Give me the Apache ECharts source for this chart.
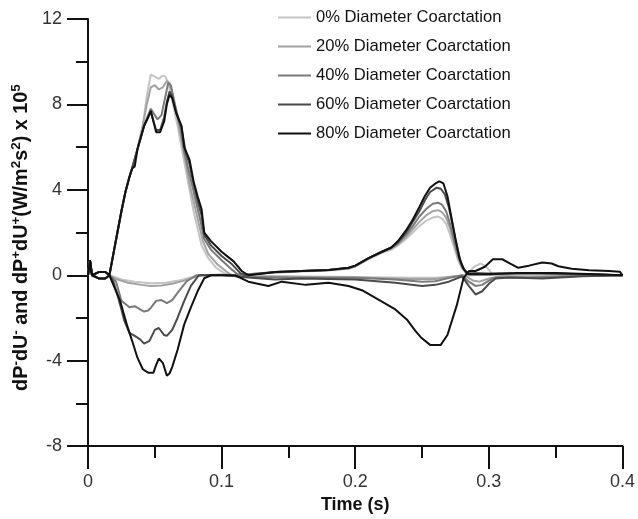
<!DOCTYPE html>
<html>
<head>
<meta charset="utf-8">
<script src="https://cdn.jsdelivr.net/npm/echarts@6/dist/echarts.min.js"></script>
<style>html,body{margin:0;padding:0;background:#fff;}#c{width:638px;height:519px;}</style>
</head>
<body>
<div id="c"></div>
<script>
// ---- data (time s, value x1e5) ----
const levels = ['0% Diameter Coarctation','20% Diameter Coarctation','40% Diameter Coarctation','60% Diameter Coarctation','80% Diameter Coarctation'];
const xTicks = [0, 0.1, 0.2, 0.3, 0.4];
const yTicks = [-8, -4, 0, 4, 8, 12];

// forward waves dP+dU+
const fwd0 = [[0,0],[0.0015,0.7],[0.003,0],[0.008,0.15],[0.013,0.15],[0.016,0],[0.019,1.0],[0.022,2.0],[0.025,3.0],[0.028,3.9],[0.031,4.6],[0.033,5.0],[0.037,5.9],[0.041,7.0],[0.044,8.4],[0.047,9.4],[0.05,9.3],[0.053,9.2],[0.056,9.35],[0.058,9.3],[0.06,9.0],[0.063,8.2],[0.067,7.0],[0.07,6.0],[0.073,5.0],[0.076,4.0],[0.079,3.0],[0.082,2.2],[0.085,1.4],[0.09,0.8],[0.096,0.35],[0.102,0.1],[0.106,0],[0.12,0.05],[0.14,0.12],[0.16,0.18],[0.18,0.22],[0.195,0.3],[0.2,0.4],[0.21,0.75],[0.22,1.05],[0.227,1.2],[0.232,1.4],[0.238,1.7],[0.243,2.0],[0.248,2.3],[0.253,2.55],[0.258,2.7],[0.262,2.75],[0.265,2.65],[0.268,2.4],[0.271,1.9],[0.274,1.3],[0.277,0.7],[0.28,0.3],[0.284,0.05],[0.289,0.4],[0.294,0.55],[0.298,0.4],[0.302,0.1],[0.32,0.05],[0.36,0.05],[0.4,0]];
const fwd20 = [[0,0],[0.0015,0.7],[0.003,0],[0.008,0.15],[0.013,0.15],[0.016,0],[0.019,1.0],[0.022,2.0],[0.025,3.0],[0.028,3.9],[0.031,4.6],[0.033,5.0],[0.037,5.9],[0.041,7.0],[0.044,8.0],[0.047,8.8],[0.05,8.9],[0.053,8.7],[0.056,8.8],[0.059,9.1],[0.061,9.0],[0.064,8.3],[0.068,7.0],[0.071,6.0],[0.074,5.0],[0.077,4.0],[0.08,3.2],[0.083,2.4],[0.086,1.6],[0.09,1.0],[0.097,0.5],[0.104,0.15],[0.108,0],[0.12,0.05],[0.14,0.13],[0.16,0.2],[0.18,0.23],[0.195,0.32],[0.2,0.42],[0.21,0.78],[0.22,1.08],[0.227,1.25],[0.232,1.45],[0.238,1.8],[0.243,2.15],[0.248,2.5],[0.253,2.8],[0.258,3.0],[0.262,3.05],[0.265,2.95],[0.268,2.7],[0.271,2.2],[0.274,1.5],[0.277,0.8],[0.28,0.35],[0.284,0.05],[0.29,0.1],[0.3,0.05],[0.33,0.08],[0.37,0.05],[0.4,0]];
const fwd40 = [[0,0],[0.0015,0.7],[0.003,0],[0.008,0.15],[0.013,0.15],[0.016,0],[0.019,1.0],[0.022,2.0],[0.025,3.0],[0.028,3.9],[0.031,4.6],[0.033,5.0],[0.037,5.9],[0.042,7.0],[0.045,7.5],[0.047,7.8],[0.049,7.6],[0.052,7.3],[0.055,7.5],[0.058,8.4],[0.06,9.0],[0.062,8.9],[0.065,8.0],[0.069,7.0],[0.072,5.8],[0.075,5.0],[0.078,4.2],[0.081,3.4],[0.084,2.6],[0.087,1.7],[0.092,1.2],[0.1,0.7],[0.107,0.3],[0.112,0.05],[0.12,0.05],[0.14,0.15],[0.16,0.2],[0.18,0.25],[0.195,0.33],[0.2,0.43],[0.21,0.8],[0.22,1.1],[0.227,1.28],[0.232,1.5],[0.238,1.9],[0.243,2.3],[0.248,2.75],[0.253,3.1],[0.258,3.35],[0.262,3.4],[0.265,3.3],[0.268,3.0],[0.271,2.4],[0.274,1.6],[0.277,0.9],[0.28,0.4],[0.284,0.05],[0.3,0.05],[0.33,0.1],[0.37,0.05],[0.4,0]];
const fwd60 = [[0,0],[0.0015,0.7],[0.003,0],[0.008,0.15],[0.013,0.15],[0.016,0],[0.019,1.0],[0.022,2.0],[0.025,3.0],[0.028,3.9],[0.031,4.6],[0.033,5.0],[0.037,5.9],[0.042,7.0],[0.045,7.4],[0.047,7.65],[0.049,7.2],[0.051,6.8],[0.054,6.8],[0.057,7.4],[0.059,8.1],[0.061,8.6],[0.063,8.4],[0.066,7.6],[0.07,6.9],[0.073,5.8],[0.076,5.2],[0.079,4.3],[0.082,3.5],[0.085,2.8],[0.087,1.9],[0.092,1.4],[0.1,0.9],[0.108,0.5],[0.114,0.1],[0.118,0],[0.14,0.15],[0.16,0.2],[0.18,0.25],[0.195,0.35],[0.2,0.45],[0.21,0.8],[0.22,1.1],[0.227,1.3],[0.232,1.55],[0.238,2.0],[0.243,2.5],[0.248,3.0],[0.252,3.5],[0.256,3.9],[0.261,4.1],[0.264,4.05],[0.267,3.8],[0.27,3.2],[0.273,2.3],[0.276,1.4],[0.279,0.6],[0.283,0.1],[0.3,0.08],[0.33,0.1],[0.37,0.05],[0.4,0]];
const fwd80 = [[0,0],[0.0015,0.7],[0.003,0],[0.008,0.15],[0.013,0.15],[0.016,0],[0.019,1.0],[0.022,2.0],[0.025,3.0],[0.028,3.9],[0.031,4.6],[0.033,5.0],[0.035,5.1],[0.037,5.9],[0.042,7.0],[0.045,7.4],[0.047,7.7],[0.049,7.2],[0.051,6.7],[0.054,6.7],[0.057,7.2],[0.059,8.0],[0.061,8.45],[0.063,8.3],[0.066,7.6],[0.07,7.0],[0.072,6.0],[0.076,5.4],[0.079,4.4],[0.082,3.7],[0.085,3.1],[0.087,2.0],[0.092,1.6],[0.1,1.1],[0.105,0.85],[0.109,0.65],[0.115,0.2],[0.12,0],[0.14,0.15],[0.16,0.2],[0.18,0.25],[0.195,0.35],[0.2,0.45],[0.21,0.8],[0.22,1.1],[0.227,1.3],[0.232,1.6],[0.238,2.1],[0.243,2.6],[0.248,3.2],[0.252,3.7],[0.256,4.1],[0.26,4.3],[0.263,4.4],[0.266,4.3],[0.269,3.7],[0.272,2.7],[0.275,1.7],[0.278,0.8],[0.281,0.3],[0.285,0.05],[0.3,0.05],[0.32,0.1],[0.35,0.1],[0.38,0.05],[0.4,0]];

// backward waves dP-dU-
const bwd0 = [[0,0],[0.0015,0.7],[0.003,0],[0.008,-0.15],[0.013,-0.15],[0.016,0],[0.025,-0.2],[0.035,-0.3],[0.047,-0.37],[0.058,-0.35],[0.068,-0.25],[0.078,-0.08],[0.085,0],[0.1,0],[0.12,-0.05],[0.15,-0.05],[0.2,-0.08],[0.24,-0.12],[0.26,-0.12],[0.275,-0.05],[0.285,0],[0.3,0.02],[0.32,0],[0.35,0.02],[0.4,0]];
const bwd20 = [[0,0],[0.0015,0.7],[0.003,0],[0.008,-0.15],[0.013,-0.15],[0.016,0],[0.022,-0.2],[0.03,-0.35],[0.04,-0.45],[0.047,-0.5],[0.055,-0.48],[0.063,-0.4],[0.072,-0.25],[0.08,-0.08],[0.085,0],[0.1,0],[0.12,-0.05],[0.16,-0.08],[0.2,-0.1],[0.24,-0.18],[0.26,-0.18],[0.275,-0.05],[0.282,0],[0.288,-0.25],[0.293,-0.3],[0.3,-0.15],[0.31,-0.05],[0.33,-0.08],[0.36,-0.03],[0.4,0]];
const bwd40 = [[0,0],[0.0015,0.7],[0.003,0],[0.008,-0.15],[0.013,-0.15],[0.016,0],[0.021,-0.3],[0.025,-1.2],[0.028,-1.35],[0.031,-1.5],[0.035,-1.45],[0.039,-1.6],[0.042,-1.7],[0.045,-1.65],[0.047,-1.53],[0.051,-1.2],[0.055,-1.16],[0.059,-1.3],[0.063,-1.16],[0.068,-0.74],[0.074,-0.28],[0.081,0],[0.1,0],[0.12,-0.08],[0.15,-0.1],[0.2,-0.12],[0.23,-0.2],[0.25,-0.3],[0.26,-0.28],[0.272,-0.1],[0.28,0],[0.285,-0.3],[0.29,-0.5],[0.295,-0.45],[0.3,-0.25],[0.305,-0.1],[0.31,-0.1],[0.33,-0.12],[0.36,-0.05],[0.4,0]];
const bwd60 = [[0,0],[0.0015,0.7],[0.003,0],[0.008,-0.15],[0.013,-0.15],[0.016,0],[0.019,-0.3],[0.022,-0.9],[0.025,-1.6],[0.027,-2.1],[0.031,-2.7],[0.035,-2.84],[0.039,-3.0],[0.042,-3.2],[0.046,-3.07],[0.05,-2.56],[0.053,-2.47],[0.057,-2.8],[0.059,-2.84],[0.063,-2.56],[0.067,-2.0],[0.072,-1.2],[0.077,-0.5],[0.083,0],[0.1,0.02],[0.12,-0.1],[0.14,-0.2],[0.16,-0.15],[0.2,-0.2],[0.23,-0.35],[0.25,-0.5],[0.26,-0.45],[0.27,-0.3],[0.28,-0.05],[0.285,-0.5],[0.29,-0.9],[0.295,-0.75],[0.3,-0.4],[0.305,-0.15],[0.315,-0.1],[0.34,-0.15],[0.37,-0.05],[0.4,0]];
const bwd80 = [[0,0],[0.0015,0.7],[0.003,0],[0.008,-0.15],[0.013,-0.15],[0.016,0],[0.02,-0.6],[0.024,-1.2],[0.029,-2.3],[0.033,-3.07],[0.037,-3.86],[0.041,-4.4],[0.045,-4.56],[0.049,-4.56],[0.051,-4.2],[0.053,-3.9],[0.056,-4.1],[0.059,-4.7],[0.061,-4.6],[0.063,-4.3],[0.067,-3.5],[0.072,-2.3],[0.077,-1.5],[0.082,-0.75],[0.087,-0.14],[0.092,0],[0.11,0],[0.12,-0.3],[0.135,-0.5],[0.145,-0.3],[0.163,-0.45],[0.18,-0.35],[0.195,-0.5],[0.205,-0.7],[0.219,-1.2],[0.23,-1.6],[0.239,-2.1],[0.245,-2.6],[0.249,-2.9],[0.256,-3.26],[0.264,-3.26],[0.269,-2.8],[0.276,-1.4],[0.281,-0.14],[0.285,0.2],[0.29,0.2],[0.297,0.4],[0.303,0.75],[0.31,0.75],[0.316,0.55],[0.322,0.35],[0.33,0.45],[0.34,0.6],[0.347,0.55],[0.352,0.42],[0.362,0.3],[0.375,0.23],[0.39,0.2],[0.398,0.17],[0.4,0]];

const fwdSets = [fwd0, fwd20, fwd40, fwd60, fwd80];
const bwdSets = [bwd0, bwd20, bwd40, bwd60, bwd80];

// ---- styles ----
const colors = ['#c4c4c4', '#a2a2a2', '#7a7a7a', '#4a4a4a', '#111111'];
const FONT = 'Liberation Sans, Arial, sans-serif';

const series = [];
levels.forEach((name, i) => {
  [fwdSets[i], bwdSets[i]].forEach(d => {
    series.push({
      name: name, type: 'line', data: d, showSymbol: false, symbol: 'none',
      lineStyle: { color: colors[i], width: 2 }, itemStyle: { color: colors[i] },
      animation: false, z: 2 + i
    });
  });
});

const chart = echarts.init(document.getElementById('c'), null, { renderer: 'canvas' });
chart.setOption({
  backgroundColor: '#fff',
  animation: false,
  grid: { left: 88, right: 11, top: 19, bottom: 69, containLabel: false },
  legend: {
    data: levels, orient: 'vertical', left: 278, top: 9, padding: 0, itemWidth: 33, itemHeight: 2,
    icon: 'rect', itemGap: 12, selectedMode: false,
    textStyle: { fontFamily: FONT, fontSize: 16.6, color: '#111', lineHeight: 16.5 }
  },
  xAxis: {
    type: 'value', min: 0, max: 0.4, interval: 0.1,
    name: 'Time (s)', nameLocation: 'middle', nameGap: 48,
    nameTextStyle: { fontFamily: FONT, fontSize: 18, fontWeight: 'bold', color: '#111' },
    axisLine: { show: true, onZero: false, lineStyle: { color: '#111', width: 2 } },
    axisTick: { show: true, length: 23, lineStyle: { color: '#111', width: 2 } },
    minorTick: { show: true, splitNumber: 2, length: 12, lineStyle: { color: '#111', width: 2 } },
    splitLine: { show: false },
    axisLabel: { margin: 27, fontFamily: FONT, fontSize: 18, color: '#333',
      formatter: v => String(+v.toFixed(1)) }
  },
  yAxis: {
    type: 'value', min: -8, max: 12, interval: 4,
    name: '{b|dP}{s|-}{b|dU}{s|-}{b| and dP}{s|+}{b|dU}{s|+}{b|(W/m}{s|2}{b|s}{s|2}{b|) x 10}{s|5}',
    nameLocation: 'middle', nameGap: 54,
    nameTextStyle: {
      padding: [0, 10, 0, 0],
      rich: {
        b: { fontFamily: FONT, fontSize: 19.8, fontWeight: 'bold', color: '#111', lineHeight: 24 },
        s: { fontFamily: FONT, fontSize: 13.5, fontWeight: 'bold', color: '#111', lineHeight: 14, verticalAlign: 'top' }
      }
    },
    axisLine: { show: true, onZero: false, lineStyle: { color: '#111', width: 2 } },
    axisTick: { show: true, length: 21, lineStyle: { color: '#111', width: 2 } },
    minorTick: { show: true, splitNumber: 2, length: 12, lineStyle: { color: '#111', width: 2 } },
    splitLine: { show: false },
    axisLabel: { margin: 26, fontFamily: FONT, fontSize: 18, color: '#333' }
  },
  series: series
});
</script>
</body>
</html>
